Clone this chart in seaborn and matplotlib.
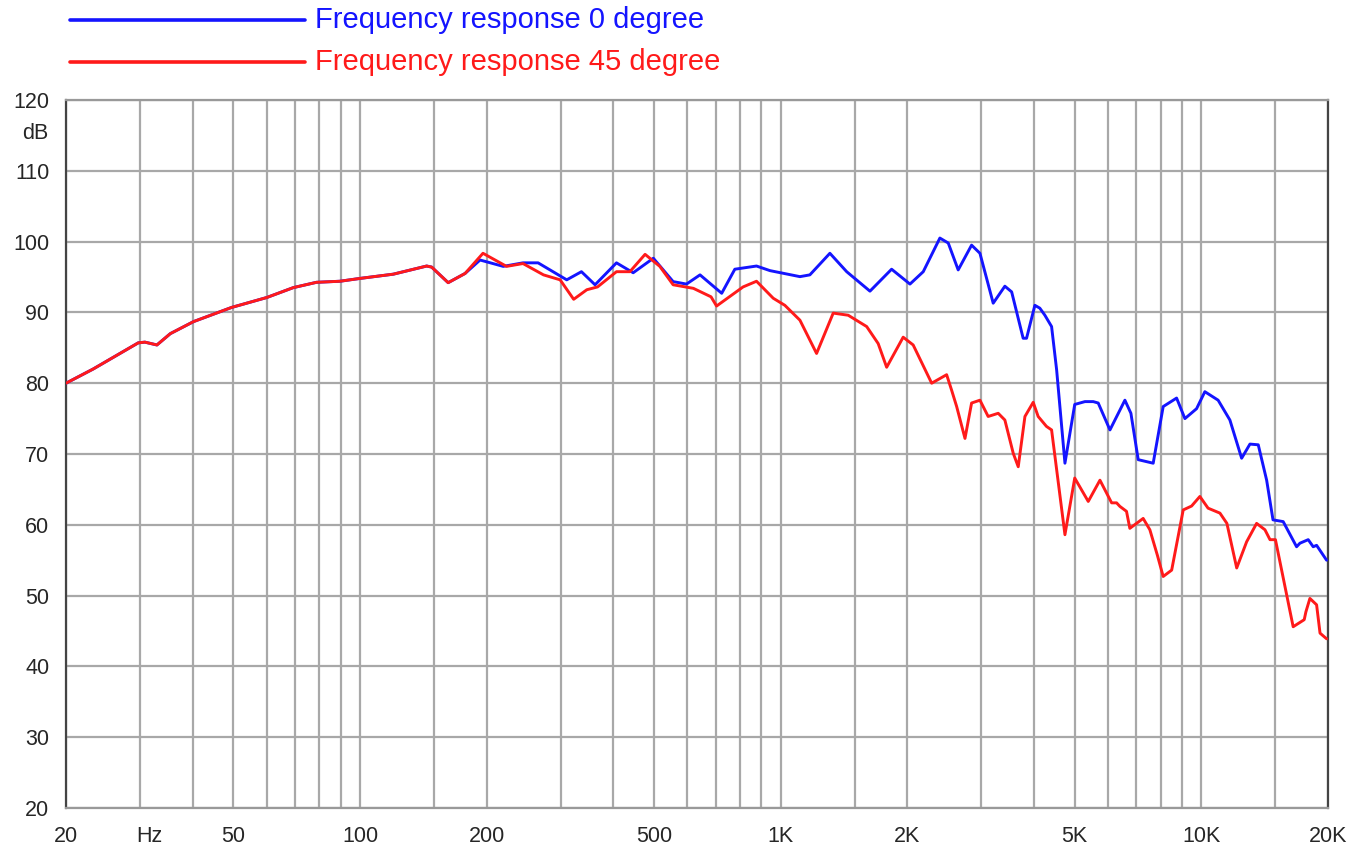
import numpy as np
import pandas as pd
import matplotlib
matplotlib.use("Agg")
import matplotlib.pyplot as plt
import matplotlib.transforms as mtransforms
import seaborn as sns

# shared low-frequency part (both curves coincide below ~180 Hz)
freq_low = [20, 23.2, 29.7, 30.8, 32.9, 35.4, 40.2, 49.5, 60, 69.4, 78.8, 89.6,
            100, 120, 144, 148, 162, 177.7]
db_low = [80.0, 82.0, 85.7, 85.8, 85.4, 87.0, 88.7, 90.7, 92.1, 93.5, 94.25, 94.4,
          94.8, 95.4, 96.55, 96.4, 94.2, 95.5]

# 0 degree response above 180 Hz
freq_0 = [192.9, 219, 244, 265, 310, 336, 362, 407, 446, 498, 555, 597, 643, 724, 778,
          876, 943, 1111, 1173, 1309, 1435, 1630, 1835, 2029, 2182, 2390, 2502, 2642,
          2843, 2976, 3200, 3411, 3540, 3770, 3841, 4020, 4130, 4246, 4405, 4528, 4739,
          5000, 5287, 5533, 5686, 6063, 6580, 6800, 7077, 7682, 8114, 8732, 9139, 9741,
          10193, 10961, 11690, 12466, 13046, 13653, 14295, 14800, 15650, 16840, 17150,
          17946, 18444, 18790, 19847]
db_0 = [97.4, 96.5, 97.0, 97.0, 94.6, 95.75, 93.9, 97.0, 95.6, 97.65, 94.35, 94.0, 95.3,
        92.7, 96.1, 96.55, 95.9, 95.05, 95.3, 98.35, 95.75, 93.0, 96.1, 94.0, 95.75, 100.5,
        99.8, 96.0, 99.5, 98.35, 91.3, 93.7, 92.9, 86.35, 86.35, 91.0, 90.6, 89.6, 88.0,
        81.9, 68.7, 77.0, 77.4, 77.4, 77.2, 73.4, 77.6, 75.75, 69.2, 68.7, 76.7, 77.9, 75.0,
        76.4, 78.8, 77.6, 74.8, 69.4, 71.4, 71.3, 66.3, 60.7, 60.45, 56.9, 57.4, 57.9, 56.9,
        57.1, 55.0]

# 45 degree response above 180 Hz
freq_45 = [196, 223, 244, 273, 299, 322, 346, 367, 407, 438, 476, 516, 555, 620, 683, 704,
           814, 876, 960, 1023, 1111, 1217, 1333, 1447, 1601, 1705, 1786, 1955, 2065, 2285,
           2480, 2549, 2620, 2742, 2843, 2976, 3113, 3289, 3411, 3571, 3670, 3807, 3983,
           4093, 4283, 4405, 4739, 5000, 5384, 5740, 6119, 6287, 6402, 6638, 6760, 7272,
           7543, 7860, 8114, 8500, 9054, 9479, 9918, 10373, 11070, 11500, 12134, 12811,
           13531, 14162, 14560, 15000, 16528, 17560, 17720, 18114, 18790, 19146, 19847]
db_45 = [98.35, 96.5, 96.9, 95.3, 94.6, 91.85, 93.2, 93.6, 95.75, 95.75, 98.2, 96.5, 93.9,
         93.4, 92.2, 90.9, 93.6, 94.4, 92.0, 91.0, 88.9, 84.2, 89.9, 89.6, 88.0, 85.6, 82.25,
         86.5, 85.4, 80.0, 81.2, 79.0, 76.7, 72.2, 77.2, 77.6, 75.3, 75.75, 74.8, 70.1, 68.2,
         75.3, 77.3, 75.3, 73.9, 73.4, 58.6, 66.6, 63.3, 66.3, 63.1, 63.1, 62.6, 61.9, 59.5,
         60.9, 59.3, 55.7, 52.7, 53.6, 62.1, 62.65, 64.0, 62.35, 61.65, 60.2, 53.9, 57.6,
         60.2, 59.3, 57.9, 57.9, 45.6, 46.6, 47.7, 49.6, 48.7, 44.7, 43.9]

series_names = ["Frequency response 0 degree", "Frequency response 45 degree"]
x_tick_vals = [20, 50, 100, 200, 500, 1000, 2000, 5000, 10000, 20000]
x_tick_labels = ["20", "50", "100", "200", "500", "1K", "2K", "5K", "10K", "20K"]
x_grid = [30, 40, 50, 60, 70, 80, 90, 100, 150, 200, 300, 400, 500, 600, 700, 800, 900,
          1000, 1500, 2000, 3000, 4000, 5000, 6000, 7000, 8000, 9000, 10000, 15000]
y_ticks = list(range(20, 121, 10))

df0 = pd.DataFrame({"freq": freq_low + freq_0, "db": db_low + db_0})
df45 = pd.DataFrame({"freq": freq_low + freq_45, "db": db_low + db_45})

sns.set_style("white")
plt.rcParams["font.family"] = ["Liberation Sans", "DejaVu Sans"]

fig = plt.figure(figsize=(13.69, 8.52), dpi=100)
ax = fig.add_axes([66 / 1369, 1 - 808 / 852, (1328 - 66) / 1369, (808 - 100) / 852])

blue = "#1414ff"
red = "#ff1a1a"
sns.lineplot(data=df0, x="freq", y="db", ax=ax, color=blue, linewidth=2.1,
             sort=False, estimator=None, zorder=3, solid_joinstyle="round")
sns.lineplot(data=df45, x="freq", y="db", ax=ax, color=red, linewidth=2.1,
             sort=False, estimator=None, zorder=4, solid_joinstyle="round")

ax.set_xscale("log")
ax.set_xlim(20, 20000)
ax.set_ylim(20, 120)
ax.set_xticks(x_tick_vals)
ax.set_xticklabels(x_tick_labels)
ax.set_xticks(x_grid, minor=True)
ax.xaxis.set_minor_formatter(matplotlib.ticker.NullFormatter())
ax.set_yticks(y_ticks)
ax.set_yticklabels([str(v) for v in y_ticks])
ax.set_xlabel("")
ax.set_ylabel("")

ax.grid(which="both", axis="x", color="#a8a8a8", linewidth=1.6)
ax.grid(which="major", axis="y", color="#a8a8a8", linewidth=1.6)
ax.tick_params(axis="y", length=8.5, width=1, color="#aaaaaa", labelsize=15.5, pad=3.5)
ax.tick_params(axis="x", which="both", length=0, labelsize=15.5, pad=13)
for side in ["left", "right"]:
    ax.spines[side].set_color("#444444")
    ax.spines[side].set_linewidth(1.6)
for side in ["top", "bottom"]:
    ax.spines[side].set_color("#999999")
    ax.spines[side].set_linewidth(1.6)

# unit labels
trans = mtransforms.blended_transform_factory(ax.transData, ax.transAxes)
ax.text(31.5, -18 / 708, "Hz", transform=trans, ha="center", va="top", fontsize=15.5)
trans_y = mtransforms.blended_transform_factory(ax.transAxes, ax.transData)
ax.text(-18 / 1262, 115.2, "dB", transform=trans_y, ha="right", va="center", fontsize=15.5)

# legend drawn as lines + coloured text above the plot
for yy, col, name in [(20, blue, series_names[0]), (62, red, series_names[1])]:
    yf = 1 - yy / 852
    fig.add_artist(plt.Line2D([70 / 1369, 305 / 1369], [yf, yf], color=col, linewidth=2.6))
    fig.text(315 / 1369, yf, name, color=col, fontsize=21, ha="left", va="center")

fig.savefig("out.png", dpi=100)
